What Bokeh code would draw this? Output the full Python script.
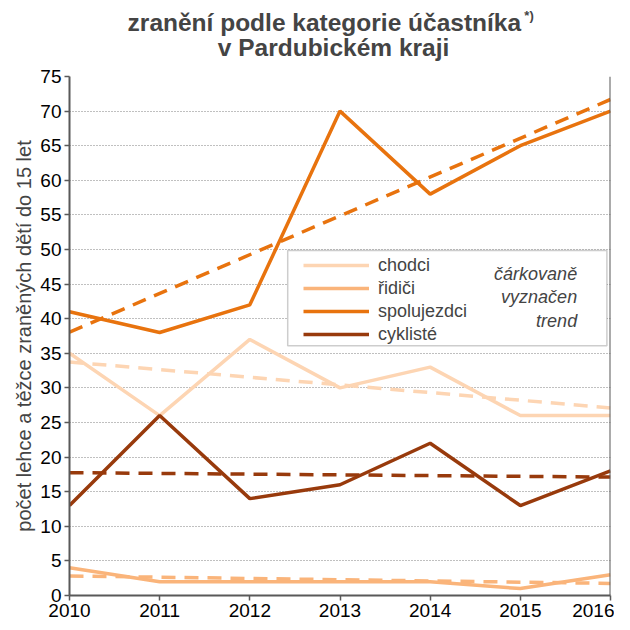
from bokeh.plotting import figure
from bokeh.layouts import column
from bokeh.models import Range1d, Legend, LegendItem, BoxAnnotation, Label, Span, FixedTicker
from bokeh.embed import file_html
from bokeh.resources import INLINE

years = [2010, 2011, 2012, 2013, 2014, 2015, 2016]
chodci = [35, 26, 37, 30, 33, 26, 26]
ridici = [4, 2, 2, 2, 2, 1, 3]
spolujezdci = [41, 38, 42, 70, 58, 65, 70]
cykliste = [13, 26, 14, 16, 22, 13, 18]

trend_x = [2010, 2016]
trend_chodci = [33.75, 27.11]
trend_ridici = [2.82, 1.75]
trend_spolujezdci = [38.04, 71.68]
trend_cykliste = [17.75, 17.11]

names = ["chodci", "řidiči", "spolujezdci", "cyklisté"]
colors = ["#FDD5B3", "#FAB47A", "#E8730E", "#983A0C"]
y_ticks = list(range(0, 80, 5))

title_1 = "zranění podle kategorie účastníka"
title_sup = "*)"
title_2 = "v Pardubickém kraji"

FONT = "Liberation Sans"
W = 614
TOP_H = 66
LEFT = 70
RIGHT = 610

# ---- title strip: its frame is aligned with the chart frame by the column layout,
# so its x range is given in page pixels of that frame ----
pt = figure(width=W, height=TOP_H, output_backend="svg", toolbar_location=None,
            x_range=Range1d(LEFT, RIGHT), y_range=Range1d(TOP_H, 0),
            min_border=0, x_axis_type=None, y_axis_type=None)
pt.outline_line_color = None
pt.grid.visible = False
pt.add_layout(Label(x=128, y=22, text=title_1, text_align="left", text_baseline="middle",
                    text_font=FONT, text_font_size="24.5px", text_font_style="bold"))
pt.add_layout(Label(x=218, y=47, text=title_2, text_align="left", text_baseline="middle",
                    text_font=FONT, text_font_size="24.5px", text_font_style="bold"))
pt.add_layout(Label(x=524, y=15, text=title_sup, text_align="left", text_baseline="middle",
                    text_font=FONT, text_font_size="13px", text_font_style="bold"))

# ---- main chart ----
p = figure(width=W, height=622 - TOP_H, output_backend="svg", toolbar_location=None,
           x_range=Range1d(2010, 2016), y_range=Range1d(0, 75),
           min_border_left=69, min_border_right=4, min_border_top=10, min_border_bottom=27)
p.outline_line_color = None
p.background_fill_color = "white"

p.xaxis.ticker = FixedTicker(ticks=years)
p.yaxis.ticker = FixedTicker(ticks=y_ticks)
for ax in (p.xaxis, p.yaxis):
    ax.major_label_text_font = FONT
    ax.major_label_text_font_size = "19px"
    ax.major_label_text_color = "black"
    ax.axis_line_color = "#595959"
    ax.axis_line_width = 2
    ax.major_tick_line_color = "#595959"
    ax.major_tick_line_width = 1.5
    ax.major_tick_in = 0
    ax.major_tick_out = 5
    ax.minor_tick_line_color = None
p.yaxis.major_label_standoff = 3
p.xaxis.major_label_standoff = 3
p.yaxis.axis_label = "počet lehce a těžce zraněných dětí do 15 let"
p.yaxis.axis_label_text_font = FONT
p.yaxis.axis_label_text_font_size = "20px"
p.yaxis.axis_label_text_font_style = "normal"
p.yaxis.axis_label_standoff = 2

p.xgrid.grid_line_color = None
p.ygrid.grid_line_color = "#808080"
p.ygrid.grid_line_dash = "1 2"
p.ygrid.grid_line_width = 1.2

p.add_layout(Span(location=2016, dimension="height", line_color="#595959", line_width=2))

series = [chodci, ridici, spolujezdci, cykliste]
trends = [trend_chodci, trend_ridici, trend_spolujezdci, trend_cykliste]
items = []
for name, col, s, t in zip(names, colors, series, trends):
    p.line(trend_x, t, line_color=col, line_width=3.5, line_dash="14 9")
    r = p.line(years, s, line_color=col, line_width=3.5)
    items.append(LegendItem(label=name, renderers=[r]))

p.add_layout(BoxAnnotation(left=2012.42, right=2015.96, top=49.85, bottom=36.1,
                           fill_color="white", fill_alpha=1.0,
                           line_color="#595959", line_width=1.5))

legend = Legend(items=items, location=(234, 250), orientation="vertical",
                padding=0, margin=0, spacing=1, glyph_width=66, glyph_height=22,
                label_height=22, label_standoff=9, border_line_color=None,
                background_fill_alpha=0, label_text_font=FONT,
                label_text_font_size="18px")
p.add_layout(legend, "center")

for txt, yv in [("čárkovaně", 46.5), ("vyznačen", 43.1), ("trend", 39.7)]:
    p.add_layout(Label(x=2015.63, y=yv, text=txt, text_align="right", text_baseline="middle",
                       text_font=FONT, text_font_size="18px", text_font_style="italic"))

layout = column(pt, p, spacing=0)
open("out.html", "w").write(file_html(layout, INLINE))
